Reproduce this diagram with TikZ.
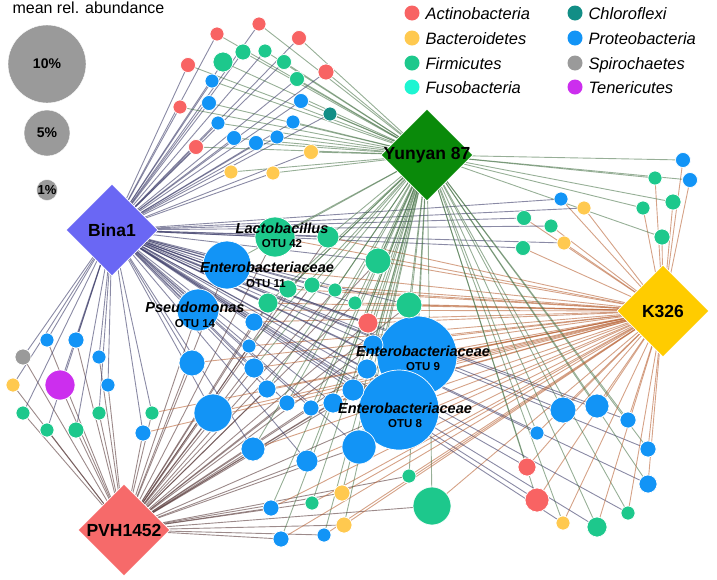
\documentclass[tikz,border=0pt]{standalone}
\usepackage{fontspec}
\setmainfont{Liberation Sans}
\usetikzlibrary{shapes.geometric, backgrounds}
\definecolor{actino}{RGB}{248,99,99}
\definecolor{bactero}{RGB}{255,201,79}
\definecolor{firmi}{RGB}{29,200,140}
\definecolor{fuso}{RGB}{30,245,210}
\definecolor{chloro}{RGB}{18,142,134}
\definecolor{proteo}{RGB}{18,148,246}
\definecolor{spiro}{RGB}{154,154,154}
\definecolor{teneri}{RGB}{204,46,238}
\definecolor{binafill}{RGB}{106,103,244}
\definecolor{yunfill}{RGB}{10,138,10}
\definecolor{kfill}{RGB}{255,204,0}
\definecolor{pvhfill}{RGB}{246,106,106}
\definecolor{binaline}{RGB}{60,60,105}
\definecolor{yunline}{RGB}{65,110,65}
\definecolor{kline}{RGB}{185,100,55}
\definecolor{pvhline}{RGB}{90,60,60}
\tikzset{
  hub/.style={
    diamond, aspect=1, minimum size=92pt, inner sep=0pt,
    draw=white, line width=0.8pt
  },
  hubname/.style={font=\fontsize{17.5}{20}\selectfont\bfseries},
  otu/.style={circle, inner sep=0pt, draw=white, line width=0.7pt},
  key/.style={circle, inner sep=0pt, minimum size=15pt},
  keytext/.style={anchor=base west, font=\fontsize{16.5}{19}\selectfont\itshape},
  taxon/.style={anchor=base, font=\fontsize{14.5}{16}\selectfont\bfseries\itshape},
  otuid/.style={anchor=base, font=\fontsize{11.5}{13}\selectfont\bfseries}
}

\begin{document}
\begin{tikzpicture}[
  x=1pt, y=-1pt,
  binaEdge/.style={draw=binaline, opacity=0.6, line width=0.9pt},
  yunEdge/.style={draw=yunline, opacity=0.55, line width=0.9pt},
  kEdge/.style={draw=kline, opacity=0.6, line width=0.9pt},
  pvhEdge/.style={draw=pvhline, opacity=0.6, line width=0.9pt},
  sizeKey/.style={circle, inner sep=0pt, fill=spiro, draw=white, font=\fontsize{14}{16}\selectfont\bfseries}
]
\useasboundingbox (0,0) rectangle (717,579);

\node[anchor=base west, font=\fontsize{16}{18}\selectfont] (abund) at (9,13) {mean rel. abundance};
\node[sizeKey, minimum size=78pt] (ten) at (47,64) {10\%};
\node[sizeKey, minimum size=46pt] (five) at (47,133) {5\%};
\node[sizeKey, minimum size=21pt, font=\fontsize{13}{15}\selectfont\bfseries] (one) at (47,190) {1\%};

\foreach \n/\x/\y/\c/\t in {ka/412/13/actino/Actinobacteria, kb/412/38/bactero/Bacteroidetes,
  kc/412/63/firmi/Firmicutes, kd/412/87/fuso/Fusobacteria, ke/575/13/chloro/Chloroflexi,
  kf/575/38/proteo/Proteobacteria, kg/575/63/spiro/Spirochaetes, kh/575/87/teneri/Tenericutes}{
  \node[key, fill=\c] (\n) at (\x,\y) {};
  \node[keytext] (\n text) at (\x+10,\y+6) {\t};
}

\node[hub, fill=binafill, label={[hubname]center:Bina1}] (bina) at (112,230) {};
\node[hub, fill=yunfill, label={[hubname]center:Yunyan 87}] (yunyan) at (427,155) {};
\node[hub, fill=kfill, label={[hubname]center:K326}] (k) at (663,311) {};
\node[hub, fill=pvhfill, label={[hubname]center:PVH1452}] (pvh) at (124,530) {};

\foreach \n/\x/\y/\r/\c in {
  t1/217/34/7/actino, t2/259/24/7/actino, t3/299/38/7.5/actino, t4/243/52/8/firmi,
  t5/265/51/7/firmi, t6/284/62/7.5/firmi, t7/223/62/10/firmi, t8/188/65/7.5/actino,
  t9/326/72/8/actino, t10/297/79/7.5/firmi, t11/212/81/7/proteo, t12/209/103/7.5/proteo,
  t13/301/101/7.5/proteo, t14/330/114/7/chloro, t15/180/107/7/actino, t16/218/123/7/proteo,
  t17/293/122/7/proteo, t18/234/138/7.5/proteo, t19/256/143/7.5/proteo, t20/277/137/7/proteo,
  t21/196/147/7.5/actino, t22/311/152/7.5/bactero, t23/231/172/7/bactero, t24/273/173/7/bactero,
  s1/683/160/7.5/proteo, s2/655/178/7/firmi, s3/690/180/7.5/proteo, s4/673/202/8/firmi,
  s5/643/208/7/firmi, s6/662/237/8/firmi,
  u1/561/199/7/proteo, u2/584/208/7/bactero, u3/524/218/7.5/firmi, u4/551/226/7/firmi,
  u5/564/243/7/bactero, u6/523/248/7.5/firmi,
  c1/417/356/40/proteo, c2/399/410/40/proteo, c3/275/237/20/firmi, c4/328/237/11/firmi,
  c5/378/261/13/firmi, c6/227/265/24/proteo, c7/288/289/9/firmi, c8/312/285/8/firmi,
  c9/335/290/7/firmi, c10/268/303/10/firmi, c11/355/303/7/firmi, c12/409/305/13/firmi,
  c13/368/323/10/actino, c14/254/322/9/proteo, c15/249/346/7/proteo, c16/254/368/10/proteo,
  c17/267/389/9/proteo, c18/287/403/8/proteo, c19/311/408/8/proteo, c20/333/403/10/proteo,
  c21/353/390/11/proteo, c22/367/369/10/proteo, c23/373/345/10/proteo,
  p1/198/310/21/proteo, p2/192/363/13/proteo, p3/213/413/19/proteo,
  d1/253/449/12/proteo, d2/307/461/11/proteo, d3/359/447/17/proteo, d4/409/476/7/firmi,
  d5/432/506/19/firmi, d6/342/493/8/bactero, d7/312/503/7/firmi, d8/271/508/8/proteo,
  d9/344/525/8/bactero, d10/324/535/7/proteo, d11/281/539/8/proteo,
  e1/563/410/13/proteo, e2/597/406/12/proteo, e3/628/420/8/proteo, e4/537/433/7/proteo,
  e5/648/449/8/proteo, e6/527/467/9/actino, e7/648/484/9/proteo, e8/537/500/12/actino,
  e9/628/513/7/firmi, e10/563/523/7/bactero, e11/597/527/10/firmi,
  l1/47/340/7/proteo, l2/76/340/8/proteo, l3/23/357/8/spiro, l4/99/357/7/proteo,
  l5/13/385/7/bactero, l6/60/385/15/teneri, l7/108/385/7/proteo, l8/23/413/7/firmi,
  l9/99/413/7/firmi, l10/152/413/7/firmi, l11/47/430/7/firmi, l12/76/430/8/firmi,
  l13/143/433/8/proteo}{
  \node[otu, fill=\c, minimum size={2*\r pt}] (\n) at (\x,\y) {};
}

\begin{pgfonlayer}{background}
\foreach \i in {1,...,24}{
  \draw[binaEdge] (bina.center) -- (t\i.center);
  \draw[yunEdge] (yunyan.center) -- (t\i.center);
}
\foreach \i in {1,...,6}{
  \draw[yunEdge] (yunyan.center) -- (s\i.center);
  \draw[kEdge] (k.center) -- (s\i.center);
  \draw[binaEdge] (bina.center) -- (u\i.center);
  \draw[kEdge] (k.center) -- (u\i.center);
}
\foreach \i in {1,...,23}{
  \draw[binaEdge] (bina.center) -- (c\i.center);
  \draw[yunEdge] (yunyan.center) -- (c\i.center);
  \draw[kEdge] (k.center) -- (c\i.center);
  \draw[pvhEdge] (pvh.center) -- (c\i.center);
}
\foreach \i in {1,...,3}{
  \draw[binaEdge] (bina.center) -- (p\i.center);
  \draw[kEdge] (k.center) -- (p\i.center);
  \draw[pvhEdge] (pvh.center) -- (p\i.center);
  \draw[binaEdge] (bina.center) -- (d\i.center);
}
\foreach \i in {1,...,11}{
  \draw[pvhEdge] (pvh.center) -- (d\i.center);
  \draw[yunEdge] (yunyan.center) -- (d\i.center);
  \draw[kEdge] (k.center) -- (d\i.center);
  \draw[binaEdge] (bina.center) -- (e\i.center);
  \draw[yunEdge] (yunyan.center) -- (e\i.center);
  \draw[kEdge] (k.center) -- (e\i.center);
}
\foreach \i in {1,...,13}{
  \draw[binaEdge] (bina.center) -- (l\i.center);
  \draw[pvhEdge] (pvh.center) -- (l\i.center);
}
\draw[kEdge] (k.center) -- (l10.center);
\draw[kEdge] (k.center) -- (l13.center);
\end{pgfonlayer}

\node[taxon] (lactoname) at (282,233) {Lactobacillus};
\node[otuid] (lactoid) at (282,247) {OTU 42};
\node[taxon] (ent11name) at (267,272) {Enterobacteriaceae};
\node[otuid] (ent11id) at (266,287) {OTU 11};
\node[taxon] (pseudoname) at (195,312) {Pseudomonas};
\node[otuid] (pseudoid) at (195,327) {OTU 14};
\node[taxon] (ent9name) at (423,356) {Enterobacteriaceae};
\node[otuid] (ent9id) at (423,370) {OTU 9};
\node[taxon] (ent8name) at (405,413) {Enterobacteriaceae};
\node[otuid] (ent8id) at (405,427) {OTU 8};
\end{tikzpicture}
\end{document}
